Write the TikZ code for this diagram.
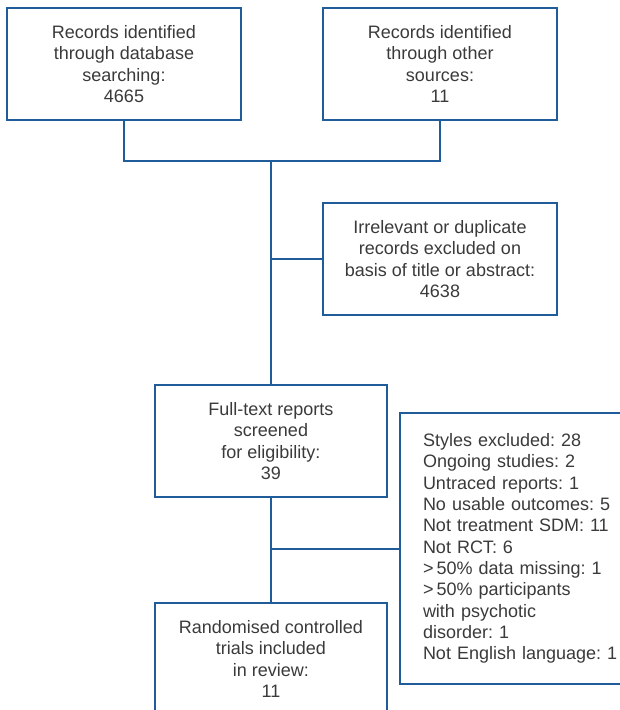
\documentclass[tikz,border=0pt]{standalone}
\usepackage{fontspec}
\setmainfont{Liberation Sans}
\usetikzlibrary{positioning}
\frenchspacing

\definecolor{flowblue}{HTML}{1F5C99}
\definecolor{flowtext}{HTML}{3A3A3A}

\begin{document}
\begin{tikzpicture}[
  x=1pt, y=1pt,
  recbox/.style={draw=flowblue, line width=2pt, align=center, minimum width=234pt, minimum height=112pt, text=flowtext, font=\fontsize{18}{21.3}\selectfont},
  listbox/.style={draw=flowblue, line width=2pt, align=left, text width=230pt, inner xsep=23pt, minimum height=271pt, text=flowtext, font=\fontsize{18}{21.3}\selectfont},
  link/.style={draw=flowblue, line width=2pt}
]
\useasboundingbox (0,0) rectangle (619,-710);

\node[recbox] (db) at (124,-64) {Records identified\\through database\\searching:\\4665};
\node[recbox, right=80pt of db] (other) {Records identified\\through other\\sources:\\11};
\node[recbox, below=81pt of other] (excl) {Irrelevant or duplicate\\records excluded on\\basis of title or abstract:\\4638};

\node[recbox, minimum width=232pt] (full) at (271,-441) {Full-text reports\\screened\\for eligibility:\\39};
\node[listbox, anchor=north west] (reasons) at (399,-412) {Styles excluded: 28\\Ongoing studies: 2\\Untraced reports: 1\\No usable outcomes: 5\\Not treatment SDM: 11\\Not RCT: 6\\{>}\,50\% data missing: 1\\{>}\,50\% participants\\with psychotic\\disorder: 1\\Not English language: 1};
\node[recbox, minimum width=232pt, below=104pt of full] (rct) {Randomised controlled\\trials included\\in review:\\11};

\coordinate (merge) at (271,-161);
\draw[link] (db.south) |- (merge) -| (other.south);
\draw[link] (merge) -- (full.north);
\draw[link] (excl.west) -- (excl.west -| merge);
\draw[link] (full.south) -- (rct.north);
\draw[link] (reasons.west) -- (reasons.west -| full.south);

\end{tikzpicture}
\end{document}
